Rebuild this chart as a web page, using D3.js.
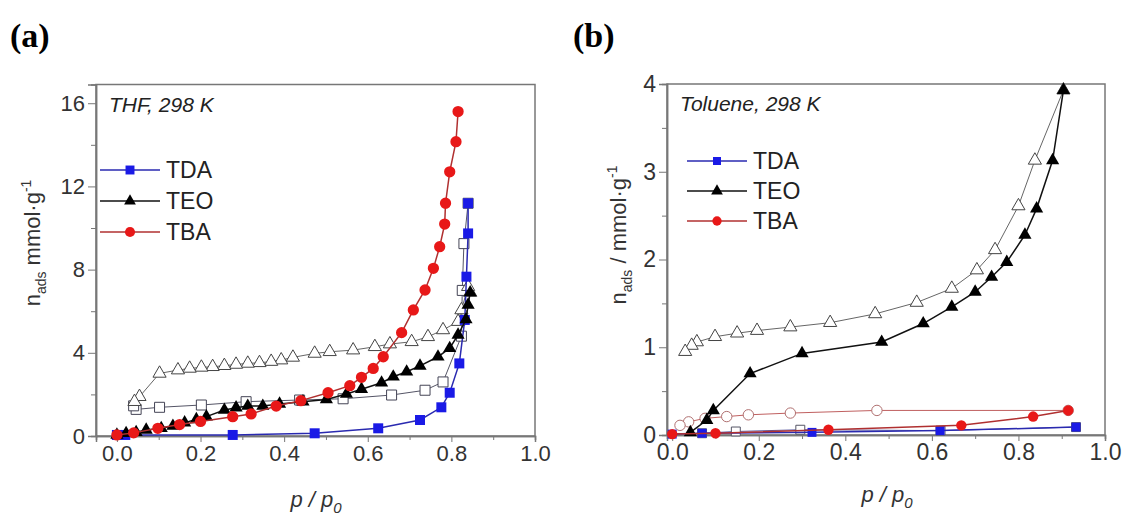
<!DOCTYPE html>
<html>
<head>
<meta charset="utf-8">
<style>
  body { margin: 0; background: #fff; }
  svg { font-family: 'Liberation Sans', Arial, sans-serif; }
  .tick text { fill: #333; }
</style>
<script src="https://d3js.org/d3.v7.min.js"></script>
</head>
<body>
<script>
// ---- data ----
var xTicks = [0, 0.2, 0.4, 0.6, 0.8, 1.0];
var yTicksA = [0, 4, 8, 12, 16];
var yTicksB = [0, 1, 2, 3, 4];
var seriesNames = ['TDA', 'TEO', 'TBA'];

// (a) THF, 298 K  -- [p/p0, n_ads]
var thfTdaAds = [[0,0.05],[0.02,0.05],[0.277,0.05],[0.473,0.13],[0.625,0.37],[0.725,0.77],[0.776,1.38],[0.796,2.08],[0.819,3.49],[0.832,5.58],[0.836,7.66],[0.84,9.74],[0.84,11.19]];
var thfTdaDes = [[0.84,11.19],[0.83,9.25],[0.826,7.0],[0.824,4.8],[0.78,2.6],[0.737,2.2],[0.657,1.97],[0.541,1.79],[0.437,1.73],[0.309,1.65],[0.202,1.49],[0.102,1.38],[0.046,1.28],[0.04,1.45]];
var thfTeoAds = [[0,0.05],[0.022,0.13],[0.046,0.18],[0.07,0.29],[0.106,0.37],[0.134,0.48],[0.162,0.64],[0.19,0.8],[0.214,0.93],[0.257,1.25],[0.285,1.36],[0.313,1.44],[0.349,1.44],[0.389,1.54],[0.445,1.65],[0.501,1.76],[0.549,2.02],[0.585,2.25],[0.633,2.56],[0.661,2.85],[0.693,3.09],[0.725,3.37],[0.768,3.81],[0.796,4.22],[0.816,4.86],[0.835,5.6],[0.84,6.3],[0.845,6.9]];
var thfTeoDes = [[0.845,6.9],[0.84,7.18],[0.824,6.06],[0.816,5.5],[0.78,5.1],[0.744,4.77],[0.705,4.53],[0.653,4.42],[0.617,4.29],[0.565,4.13],[0.509,4.05],[0.473,3.97],[0.421,3.78],[0.393,3.65],[0.369,3.58],[0.341,3.52],[0.313,3.49],[0.285,3.44],[0.257,3.38],[0.229,3.33],[0.202,3.3],[0.174,3.25],[0.146,3.17],[0.102,3.01],[0.054,1.89],[0.042,1.65]];
var thfTbaAds = [[0,0.05],[0.04,0.15],[0.098,0.37],[0.15,0.55],[0.2,0.7],[0.277,0.93],[0.321,1.06],[0.381,1.44],[0.44,1.7],[0.505,2.08],[0.557,2.42],[0.585,2.82],[0.613,3.25],[0.637,3.81],[0.681,4.97],[0.709,6.06],[0.737,7.02],[0.757,8.06],[0.772,9.1],[0.784,10.19],[0.786,11.19],[0.796,12.7],[0.811,14.15],[0.816,15.6]];

// (b) Toluene, 298 K
var tolTdaAds = [[0,0.01],[0.069,0.02],[0.323,0.03],[0.619,0.05],[0.933,0.09]];
var tolTdaDes = [[0.933,0.09],[0.62,0.05],[0.296,0.06],[0.147,0.04],[0.069,0.02]];
var tolTeoAds = [[0.042,0.03],[0.08,0.17],[0.095,0.28],[0.18,0.70],[0.30,0.93],[0.484,1.06],[0.58,1.27],[0.646,1.46],[0.70,1.63],[0.738,1.80],[0.773,1.97],[0.815,2.28],[0.842,2.58],[0.879,3.13],[0.904,3.93]];
var tolTeoDes = [[0.904,3.93],[0.838,3.13],[0.80,2.61],[0.746,2.11],[0.704,1.88],[0.646,1.67],[0.565,1.51],[0.469,1.38],[0.365,1.28],[0.273,1.23],[0.196,1.19],[0.15,1.16],[0.099,1.12],[0.057,1.06],[0.045,1.02],[0.03,0.95]];
var tolTbaAds = [[0.0,0.01],[0.1,0.02],[0.361,0.06],[0.668,0.11],[0.834,0.21],[0.915,0.28]];
var tolTbaDes = [[0.915,0.28],[0.473,0.28],[0.273,0.25],[0.176,0.23],[0.126,0.21],[0.076,0.19],[0.038,0.15],[0.018,0.11]];

var blue = '#1a1ae6', red = '#e81818';

var width = 1126, height = 515;
var svg = d3.select('body').append('svg')
  .attr('width', width).attr('height', height);

function drawPanel(p) {
  var x = d3.scaleLinear().domain(p.xDomain).range([p.left, p.right]);
  var y = d3.scaleLinear().domain(p.yDomain).range([p.bottom, p.top]);
  var g = svg.append('g');

  // frame
  g.append('rect')
    .attr('x', p.left).attr('y', p.top)
    .attr('width', p.right - p.left).attr('height', p.bottom - p.top)
    .attr('fill', 'none').attr('stroke', '#777').attr('stroke-width', 1.5);

  // axes
  var xAxis = d3.axisBottom(x).tickValues(xTicks).tickFormat(d3.format('.1f'))
    .tickSize(6).tickPadding(3);
  var xMinor = d3.axisBottom(x).tickValues(d3.range(0.1, 1.0, 0.2)).tickSize(4).tickFormat('');
  var yAxis = d3.axisLeft(y).tickValues(p.yTicks).tickFormat(d3.format('d'))
    .tickSize(8).tickPadding(3);
  var yMinor = d3.axisLeft(y).tickValues(p.yMinor).tickSize(5).tickFormat('');

  [xAxis, xMinor].forEach(function(a) {
    g.append('g').attr('transform', 'translate(0,' + p.bottom + ')').call(a)
      .call(function(s) { s.select('.domain').attr('stroke', '#777').attr('stroke-width', 1.5); })
      .selectAll('line').attr('stroke', '#777');
  });
  [yAxis, yMinor].forEach(function(a) {
    g.append('g').attr('transform', 'translate(' + p.left + ',0)').call(a)
      .call(function(s) { s.select('.domain').attr('stroke', '#777').attr('stroke-width', 1.5); })
      .selectAll('line').attr('stroke', '#777');
  });
  g.selectAll('.tick text').attr('font-size', p.tickFont).attr('font-family', 'Liberation Sans, Arial, sans-serif');

  var line = d3.line().x(function(d) { return x(d[0]); }).y(function(d) { return y(d[1]); });

  // desorption (open) first, then adsorption (filled)
  p.series.forEach(function(s) {
    if (!s.des) return;
    g.append('path').datum(s.des).attr('d', line)
      .attr('fill', 'none').attr('stroke', s.desLine).attr('stroke-width', 1);
  });
  p.series.forEach(function(s) {
    if (!s.des) return;
    g.selectAll(null).data(s.des).enter().append('path')
      .attr('transform', function(d) { return 'translate(' + x(d[0]) + ',' + y(d[1]) + ')'; })
      .attr('d', d3.symbol().type(s.symbol).size(s.size))
      .attr('fill', '#fff').attr('stroke', s.desStroke).attr('stroke-width', 1);
  });
  p.series.forEach(function(s) {
    g.append('path').datum(s.ads).attr('d', line)
      .attr('fill', 'none').attr('stroke', s.line).attr('stroke-width', 1.5);
    g.selectAll(null).data(s.ads).enter().append('path')
      .attr('transform', function(d) { return 'translate(' + x(d[0]) + ',' + y(d[1]) + ')'; })
      .attr('d', d3.symbol().type(s.symbol).size(s.size))
      .attr('fill', s.color);
  });

  // legend
  p.series.forEach(function(s, i) {
    var ly = p.legendY + i * p.legendGap;
    g.append('line').attr('x1', p.legendX).attr('x2', p.legendX + 60)
      .attr('y1', ly).attr('y2', ly).attr('stroke', s.line).attr('stroke-width', 1.5);
    g.append('path')
      .attr('transform', 'translate(' + (p.legendX + 30) + ',' + ly + ')')
      .attr('d', d3.symbol().type(s.symbol).size(s.size * 0.8))
      .attr('fill', s.color);
    g.append('text').attr('x', p.legendX + 66).attr('y', ly + 8)
      .attr('font-size', 23).attr('fill', '#222').text(seriesNames[i]);
  });

  // condition note
  g.append('text').attr('x', p.left + 13).attr('y', p.top + 27)
    .attr('font-size', 21).attr('font-style', 'italic').attr('fill', '#222').text(p.note);

  // panel letter
  svg.append('text').attr('x', p.letterX).attr('y', 47)
    .attr('font-family', 'Liberation Serif, Times New Roman, serif')
    .attr('font-weight', 'bold').attr('font-size', 34).text(p.letter);

  // x title
  var xt = svg.append('text').attr('x', p.xTitleX).attr('y', p.xTitleY)
    .attr('text-anchor', 'middle').attr('font-size', 22).attr('font-style', 'italic').attr('fill', '#333');
  xt.append('tspan').text('p / p');
  xt.append('tspan').attr('dy', 6).attr('font-size', 15).text('0');

  // y title
  var yt = svg.append('text')
    .attr('transform', 'translate(' + p.yTitleX + ',' + p.yTitleY + ') rotate(-90)')
    .attr('text-anchor', 'middle').attr('font-size', 22).attr('fill', '#333');
  yt.append('tspan').text('n');
  yt.append('tspan').attr('dy', 6).attr('font-size', 14).text('ads');
  yt.append('tspan').attr('dy', -6).text(p.unitSep + 'mmol\u00b7g');
  yt.append('tspan').attr('dy', -9).attr('font-size', 14).text('-1');
}

drawPanel({
  left: 96, right: 535, top: 84.5, bottom: 436,
  xDomain: [-0.05, 1.0], yDomain: [0, 16.9],
  yTicks: yTicksA, yMinor: [2, 6, 10, 14], tickFont: 22,
  legendX: 100, legendY: 170, legendGap: 31,
  note: 'THF, 298 K', letter: '(a)', letterX: 10,
  xTitleX: 316, xTitleY: 507, yTitleX: 40, yTitleY: 243, unitSep: ' ',
  series: [
    {ads: thfTdaAds, des: thfTdaDes, symbol: d3.symbolSquare, size: 100, color: blue, line: '#2a2ab0', desLine: '#556', desStroke: '#445'},
    {ads: thfTeoAds, des: thfTeoDes, symbol: d3.symbolTriangle, size: 75, color: '#000', line: '#111', desLine: '#666', desStroke: '#444'},
    {ads: thfTbaAds, des: null, symbol: d3.symbolCircle, size: 100, color: red, line: '#b03030'}
  ]
});

drawPanel({
  left: 667, right: 1105, top: 84, bottom: 435,
  xDomain: [-0.012, 1.0], yDomain: [0, 4],
  yTicks: yTicksB, yMinor: [0.5, 1.5, 2.5, 3.5], tickFont: 23,
  legendX: 687, legendY: 161, legendGap: 30,
  note: 'Toluene, 298 K', letter: '(b)', letterX: 573,
  xTitleX: 887, xTitleY: 502, yTitleX: 626, yTitleY: 235, unitSep: ' / ',
  series: [
    {ads: tolTdaAds, des: tolTdaDes, symbol: d3.symbolSquare, size: 80, color: blue, line: '#2a2ab0', desLine: '#5a5aa0', desStroke: '#556'},
    {ads: tolTeoAds, des: tolTeoDes, symbol: d3.symbolTriangle, size: 75, color: '#000', line: '#111', desLine: '#666', desStroke: '#444'},
    {ads: tolTbaAds, des: tolTbaDes, symbol: d3.symbolCircle, size: 85, color: red, line: '#b03030', desLine: '#c06060', desStroke: '#b07070'}
  ]
});
</script>
</body>
</html>
